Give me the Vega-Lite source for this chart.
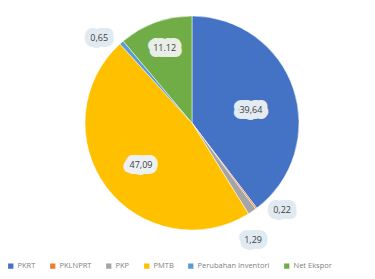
{
  "$schema": "https://vega.github.io/schema/vega-lite/v6.json",
  "width": 384,
  "height": 246,
  "padding": {"left": 0, "top": 0, "right": 0, "bottom": 33},
  "autosize": {"type": "none"},
  "background": "white",
  "config": {"view": {"stroke": null}, "font": "Open Sans"},
  "data": {
    "values": [
      {"no": 1, "komponen": "PKRT", "nilai": 39.64, "lbl": "39,64"},
      {"no": 2, "komponen": "PKLNPRT", "nilai": 0.22, "lbl": "0,22"},
      {"no": 3, "komponen": "PKP", "nilai": 1.29, "lbl": "1,29"},
      {"no": 4, "komponen": "PMTB", "nilai": 47.09, "lbl": "47,09"},
      {"no": 5, "komponen": "Perubahan Inventori", "nilai": 0.65, "lbl": "0,65"},
      {"no": 6, "komponen": "Net Ekspor", "nilai": 11.12, "lbl": "11.12"}
    ]
  },
  "encoding": {
    "theta": {"field": "nilai", "type": "quantitative", "stack": true},
    "order": {"field": "no", "type": "quantitative"},
    "color": {
      "field": "komponen",
      "type": "nominal",
      "scale": {
        "domain": ["PKRT", "PKLNPRT", "PKP", "PMTB", "Perubahan Inventori", "Net Ekspor"],
        "range": ["#4472C4", "#ED7D31", "#A5A5A5", "#FFC000", "#5B9BD5", "#70AD47"]
      },
      "legend": {
        "title": null,
        "orient": "none",
        "legendX": 7,
        "legendY": 262,
        "direction": "horizontal",
        "columns": 6,
        "columnPadding": 13,
        "symbolType": "square",
        "symbolSize": 28,
        "symbolStrokeWidth": 0,
        "labelFontSize": 7.5,
        "labelColor": "#7f7f7f",
        "labelOffset": 3
      }
    }
  },
  "layer": [
    {"mark": {"type": "arc", "outerRadius": 107, "stroke": "white", "strokeWidth": 0.5}},
    {
      "mark": {"type": "text", "radius": 60, "dx": 2, "dy": 6, "fontSize": 9, "strokeWidth": 12, "strokeJoin": "round"},
      "encoding": {"text": {"field": "lbl"}, "opacity": {"condition": {"test": "datum.no == 1", "value": 1}, "value": 0}, "color": {"value": "#e4ebf2"}, "stroke": {"value": "#e4ebf2"}}
    },
    {
      "mark": {"type": "text", "radius": 60, "dx": 2, "dy": 6, "fontSize": 9},
      "encoding": {"text": {"field": "lbl"}, "opacity": {"condition": {"test": "datum.no == 1", "value": 1}, "value": 0}, "color": {"value": "#404040"}}
    },
    {
      "mark": {"type": "text", "radius": 64, "dy": 3, "fontSize": 9, "strokeWidth": 12, "strokeJoin": "round"},
      "encoding": {"text": {"field": "lbl"}, "opacity": {"condition": {"test": "datum.no == 4", "value": 1}, "value": 0}, "color": {"value": "#eef1f4"}, "stroke": {"value": "#eef1f4"}}
    },
    {
      "mark": {"type": "text", "radius": 64, "dy": 3, "fontSize": 9},
      "encoding": {"text": {"field": "lbl"}, "opacity": {"condition": {"test": "datum.no == 4", "value": 1}, "value": 0}, "color": {"value": "#404040"}}
    },
    {
      "mark": {"type": "text", "radius": 80, "fontSize": 9, "strokeWidth": 12, "strokeJoin": "round"},
      "encoding": {"text": {"field": "lbl"}, "opacity": {"condition": {"test": "datum.no == 6", "value": 1}, "value": 0}, "color": {"value": "#e9efe6"}, "stroke": {"value": "#e9efe6"}}
    },
    {
      "mark": {"type": "text", "radius": 80, "fontSize": 9},
      "encoding": {"text": {"field": "lbl"}, "opacity": {"condition": {"test": "datum.no == 6", "value": 1}, "value": 0}, "color": {"value": "#404040"}}
    },
    {
      "mark": {"type": "text", "radius": 115, "dx": -17, "dy": 2, "fontSize": 9, "strokeWidth": 12, "strokeJoin": "round"},
      "encoding": {"text": {"field": "lbl"}, "opacity": {"condition": {"test": "datum.no == 5", "value": 1}, "value": 0}, "color": {"value": "#e2eaf1"}, "stroke": {"value": "#e2eaf1"}}
    },
    {
      "mark": {"type": "text", "radius": 115, "dx": -17, "dy": 2, "fontSize": 9},
      "encoding": {"text": {"field": "lbl"}, "opacity": {"condition": {"test": "datum.no == 5", "value": 1}, "value": 0}, "color": {"value": "#404040"}}
    },
    {
      "mark": {"type": "text", "radius": 110, "dx": 24, "dy": -1, "fontSize": 9, "strokeWidth": 12, "strokeJoin": "round"},
      "encoding": {"text": {"field": "lbl"}, "opacity": {"condition": {"test": "datum.no == 2", "value": 1}, "value": 0}, "color": {"value": "#e2eaf1"}, "stroke": {"value": "#e2eaf1"}}
    },
    {
      "mark": {"type": "text", "radius": 110, "dx": 24, "dy": -1, "fontSize": 9},
      "encoding": {"text": {"field": "lbl"}, "opacity": {"condition": {"test": "datum.no == 2", "value": 1}, "value": 0}, "color": {"value": "#404040"}}
    },
    {
      "mark": {"type": "text", "radius": 130, "dx": -12, "dy": 9, "fontSize": 9, "strokeWidth": 12, "strokeJoin": "round"},
      "encoding": {"text": {"field": "lbl"}, "opacity": {"condition": {"test": "datum.no == 3", "value": 1}, "value": 0}, "color": {"value": "#e2eaf1"}, "stroke": {"value": "#e2eaf1"}}
    },
    {
      "mark": {"type": "text", "radius": 130, "dx": -12, "dy": 9, "fontSize": 9},
      "encoding": {"text": {"field": "lbl"}, "opacity": {"condition": {"test": "datum.no == 3", "value": 1}, "value": 0}, "color": {"value": "#404040"}}
    }
  ]
}
